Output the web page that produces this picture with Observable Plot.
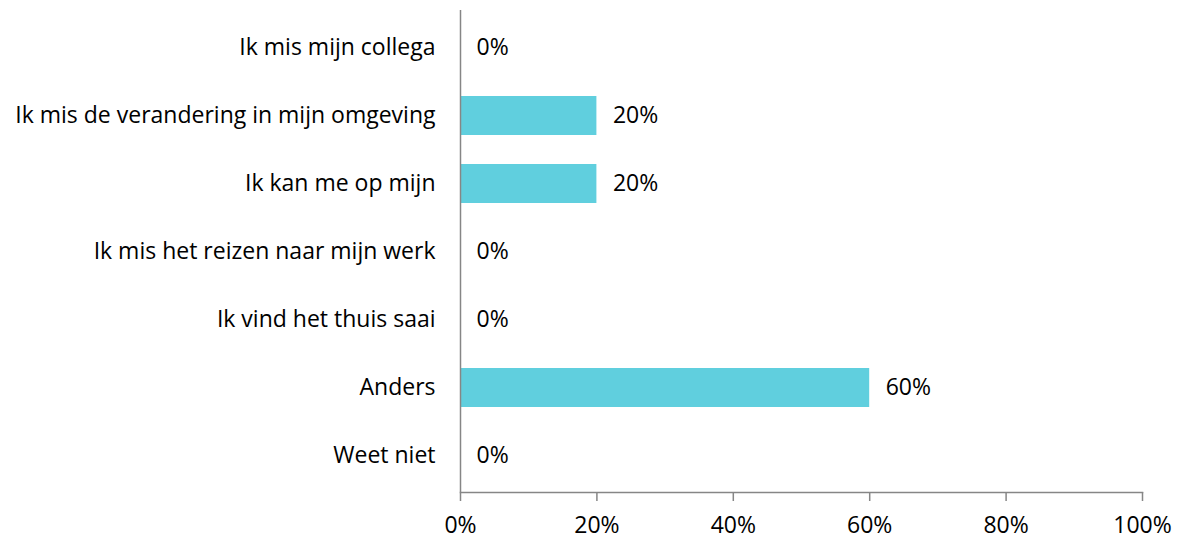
<!DOCTYPE html>
<html><head><meta charset="utf-8">
<script src="https://cdn.jsdelivr.net/npm/d3@7"></script>
<script src="https://cdn.jsdelivr.net/npm/@observablehq/plot@0.6"></script>
<style>body{margin:0;background:#fff;} svg{font-family:"Open Sans",sans-serif;}</style>
</head><body><div id="chart"></div>
<script>
const categories = ["Ik mis mijn collega","Ik mis de verandering in mijn omgeving","Ik kan me op mijn","Ik mis het reizen naar mijn werk","Ik vind het thuis saai","Anders","Weet niet"];
const values = [0, 0.2, 0.2, 0, 0, 0.6, 0];
const xTicks = [0, 0.2, 0.4, 0.6, 0.8, 1.0];
const data = categories.map((c, i) => ({category: c, value: values[i]}));
const axisColor = "#868686";
const fs = 23;
const chart = Plot.plot({
  width: 1181, height: 539,
  marginLeft: 460, marginRight: 39, marginTop: 10, marginBottom: 47,
  style: {fontSize: fs + "px", fontFamily: "'Open Sans', sans-serif", color: "#000", background: "#fff"},
  x: {domain: [0, 1], ticks: xTicks, tickFormat: d => Math.round(d*100) + "%"},
  y: {domain: categories, paddingInner: 0.43, paddingOuter: 0.215, label: null},
  marks: [
    Plot.barX(data, {x: "value", y: "category", fill: "#60CFDE"}),
    Plot.text(data, {x: "value", y: "category", text: d => Math.round(d.value*100) + "%", textAnchor: "start", dx: 16, fill: "#000", fontSize: fs}),
    Plot.ruleX([0], {stroke: axisColor, strokeWidth: 1.5}),
    Plot.frame({anchor: "bottom", stroke: axisColor, strokeWidth: 1.5}),
    Plot.axisX({ticks: xTicks, tickFormat: d => Math.round(d*100) + "%", tickSize: 9, tickPadding: 15, stroke: axisColor, strokeWidth: 1.5, label: null, fill: "#000", fontSize: fs}),
    Plot.axisY({tickSize: 0, tickPadding: 25, label: null, fill: "#000", fontSize: fs})
  ]
});
document.getElementById("chart").appendChild(chart);
</script></body></html>
